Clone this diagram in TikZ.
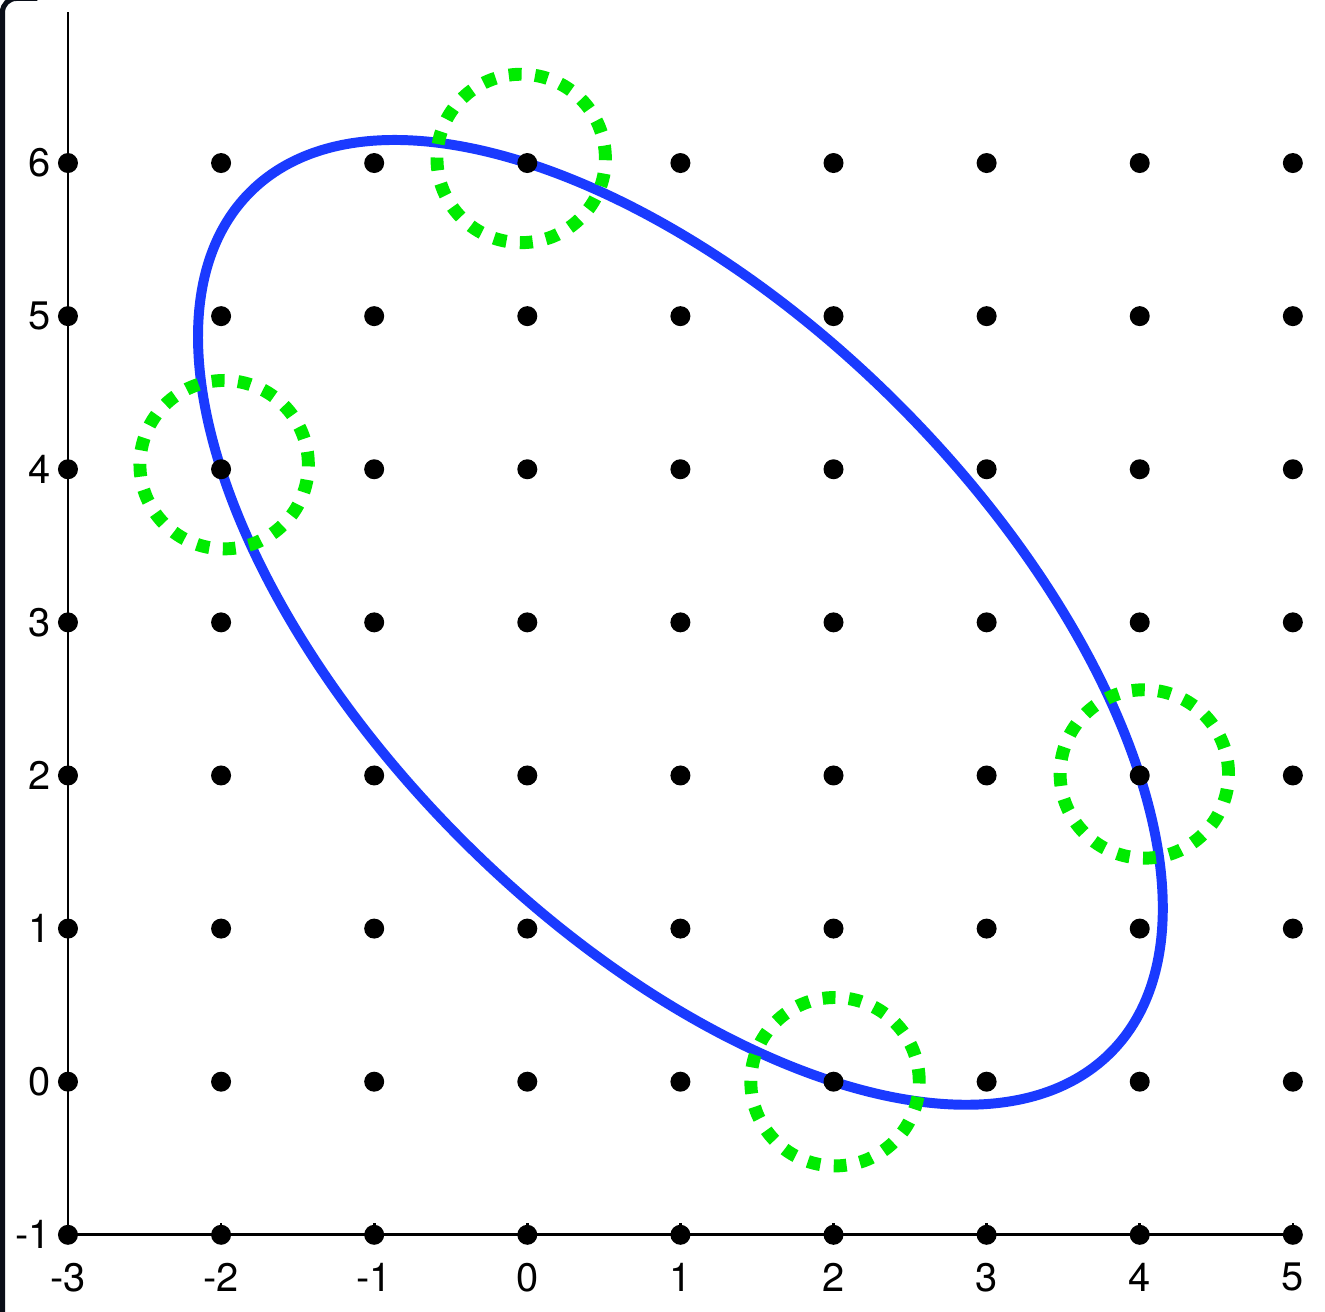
\documentclass[tikz,border=0pt]{standalone}
\usepackage{fontspec}
\setmainfont{TeX Gyre Heros}
\definecolor{ellblue}{RGB}{26,58,255}
\definecolor{ringgreen}{RGB}{0,235,0}
\definecolor{framedark}{RGB}{10,14,24}
\begin{document}
\begin{tikzpicture}[x=1cm,y=1cm,
  axisline/.style={line width=0.5pt, black},
  gridpt/.style={fill=black},
  ellcurve/.style={line width=1.85pt, draw=ellblue},
  greenring/.style={line width=2.4pt, draw=ringgreen, dash pattern=on 2.4pt off 2.5pt},
  lab/.style={font=\fontsize{7.4}{9}\selectfont, inner sep=0pt, text=black}]
\useasboundingbox (-3.444,-1.503) rectangle (5.21,7.065);
% window frame edge
\draw[line width=0.95pt, draw=framedark, rounded corners=0.09cm]
  (-3.4277,-1.6) -- (-3.4277,7.075) -- (-3.2,7.075);
% axes
\draw[axisline] (-3,6.986) -- (-3,-1) -- (5.04,-1);
\foreach \x in {-2,...,5} \draw[axisline] (\x,-1) -- (\x,-0.92);
% ellipse
\draw[ellcurve, rotate around={-45:(1,3)}] (1,3) ellipse [x radius=3.974, y radius=2.013];
% grid points
\foreach \x in {-3,...,5} \foreach \y in {-1,...,6} \fill[gridpt] (\x,\y) circle[radius=0.0653];
% labels
\foreach \x in {-3,...,5} \node[lab] (xl\x) at (\x,-1.278) {\x};
\foreach \y in {-1,...,6} \node[lab, anchor=east] (yl\y) at (-3.105,\y) {\y};
% green rings
\draw[greenring] (-0.04,6.03) circle[radius=0.55];
\draw[greenring] (-1.98,4.03) circle[radius=0.55];
\draw[greenring] (4.03,2.01) circle[radius=0.55];
\draw[greenring] (2.01,0.0) circle[radius=0.55];
\end{tikzpicture}
\end{document}
